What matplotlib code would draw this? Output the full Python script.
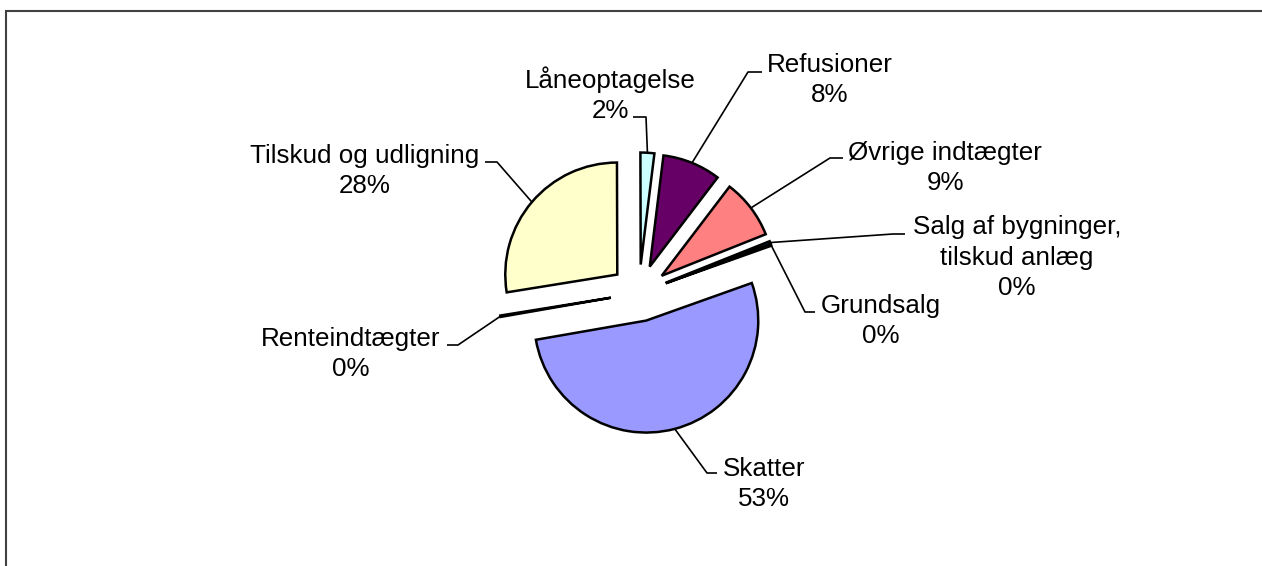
import matplotlib.pyplot as plt
import numpy as np
from matplotlib.patches import Rectangle

# data in the order Excel stored it (drawn clockwise)
categories = ['Skatter', 'Renteindtægter', 'Tilskud og udligning', 'Låneoptagelse',
              'Refusioner', 'Øvrige indtægter', 'Salg af bygninger,\ntilskud anlæg', 'Grundsalg']
shares = [52.7, 0.2, 27.5, 2.0, 8.4, 8.6, 0.4, 0.2]
colors = ['#9999FF', '#993366', '#FFFFCC', '#CCFFFF', '#660066', '#FF8080', '#0066CC', '#CCCCFF']

W, H = 1262, 566

# label layout in image pixels: text centre x, last baseline y, leader start, leader elbow
label_pos = {
    'Skatter': ((764, 506), (717, 473), (707, 473)),
    'Renteindtægter': ((351, 376), (447, 345), (458, 345)),
    'Tilskud og udligning': ((365, 193), (485, 162), (497, 162)),
    'Låneoptagelse': ((610, 118), (633, 117), (646, 117)),
    'Refusioner': ((830, 102), (762, 72), (748, 72)),
    'Øvrige indtægter': ((945, 190), (843, 158), (830, 158)),
    'Salg af bygninger,\ntilskud anlæg': ((1017, 295), (905, 234), (893, 234)),
    'Grundsalg': ((881, 343), (815, 312), (805, 312)),
}

plt.rcParams['font.family'] = ['Liberation Sans', 'DejaVu Sans']

fig = plt.figure(figsize=(W / 100, H / 100), dpi=100)
ax = fig.add_axes([0, 0, 1, 1])

wedges, _ = ax.pie(shares, colors=colors, startangle=19.6, counterclock=False,
                   center=(639, H - 293), radius=112, explode=[28.5] * len(shares),
                   wedgeprops=dict(edgecolor='black', linewidth=1.8), frame=True)
ax.set_xlim(0, W)
ax.set_ylim(0, H)
ax.set_aspect('auto')
ax.axis('off')

total = sum(shares)
for w, name, val in zip(wedges, categories, shares):
    (tx, ty), (sx, sy), (ex, ey) = label_pos[name]
    ax.text(tx, H - ty, f'{name}\n{val / total * 100:.0f}%', ha='center', va='baseline',
            fontsize=18.7, linespacing=1.34, multialignment='center')
    # leader line ends on the middle of the wedge's outer arc
    tm = np.deg2rad((w.theta1 + w.theta2) / 2)
    px = w.center[0] + w.r * np.cos(tm)
    py = w.center[1] + w.r * np.sin(tm)
    ax.plot([sx, ex, px], [H - sy, H - ey, py], color='black', lw=1.2, solid_capstyle='butt')

fig.add_artist(Rectangle((6 / W, -0.1), 1.2, (H - 11) / H + 0.1, transform=fig.transFigure,
                         fill=False, edgecolor='#404040', lw=1.5))

plt.savefig('out.png', dpi=100)
